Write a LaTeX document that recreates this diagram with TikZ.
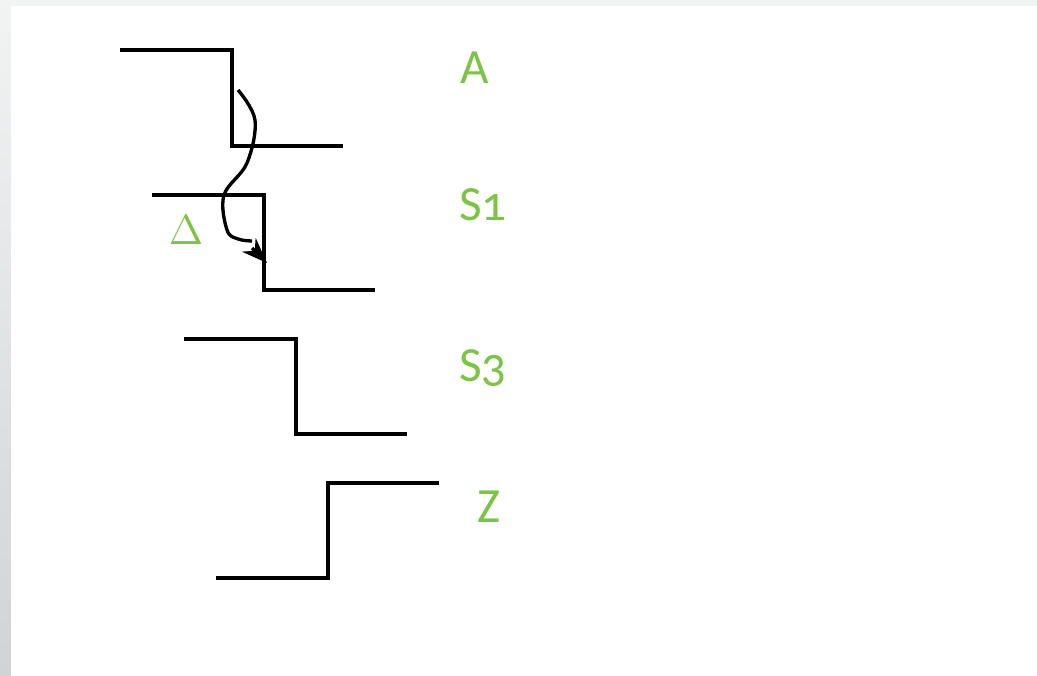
\documentclass[tikz,border=0pt]{standalone}
\usepackage{fontspec}
\setmainfont{Carlito}[Numbers=OldStyle]
\usepackage{tikz}
\usetikzlibrary{arrows.meta}
\definecolor{siggreen}{RGB}{125,195,70}
\definecolor{pagegray}{RGB}{242,243,243}
\definecolor{edgegray}{RGB}{208,212,215}
\tikzset{
  wave/.style={line width=0.95pt, color=black},
  flow/.style={line width=0.95pt, color=black},
  tag/.style={font=\fontsize{14}{16}\selectfont, color=siggreen, inner sep=0pt},
  delta/.style={font=\fontsize{12.5}{15}\selectfont, color=siggreen, inner sep=0pt}
}
\begin{document}
\begin{tikzpicture}
  % page background
  \useasboundingbox (0,0) rectangle (10.37,6.75);
  \fill[pagegray] (0,0) rectangle (10.37,6.75);
  \shade[top color=pagegray, bottom color=edgegray] (0,0) rectangle (0.11,6.75);
  \fill[white] (0.11,0) rectangle (10.37,6.69);
  % signal A
  \draw[wave] (1.20,6.25) -- (2.32,6.25) -- (2.32,5.29) -- (3.43,5.29);
  \node[tag] (lblA) at (4.75,6.07) {A};
  % signal S1
  \draw[wave] (1.52,4.80) -- (2.64,4.80) -- (2.64,3.85) -- (3.75,3.85);
  \node[tag] (lblS1) at (4.83,4.70) {S1};
  \node[delta] (lblD) at (1.86,4.45) {$\Delta$};
  % signal S3
  \draw[wave] (1.84,3.36) -- (2.96,3.36) -- (2.96,2.41) -- (4.07,2.41);
  \node[tag] (lblS3) at (4.83,3.07) {S3};
  % signal Z
  \draw[wave] (2.16,0.97) -- (3.28,0.97) -- (3.28,1.92) -- (4.39,1.92);
  \node[tag] (lblZ) at (4.89,1.68) {Z};
  % delay arrow from A edge to S1 edge
  \draw[flow] plot[smooth, tension=0.6] coordinates {(2.38,5.85) (2.55,5.55) (2.47,5.12) (2.24,4.80) (2.27,4.45) (2.38,4.36) (2.52,4.34)};
  \draw[flow, -Stealth] (2.52,4.27) -- (2.67,4.12);
\end{tikzpicture}
\end{document}
